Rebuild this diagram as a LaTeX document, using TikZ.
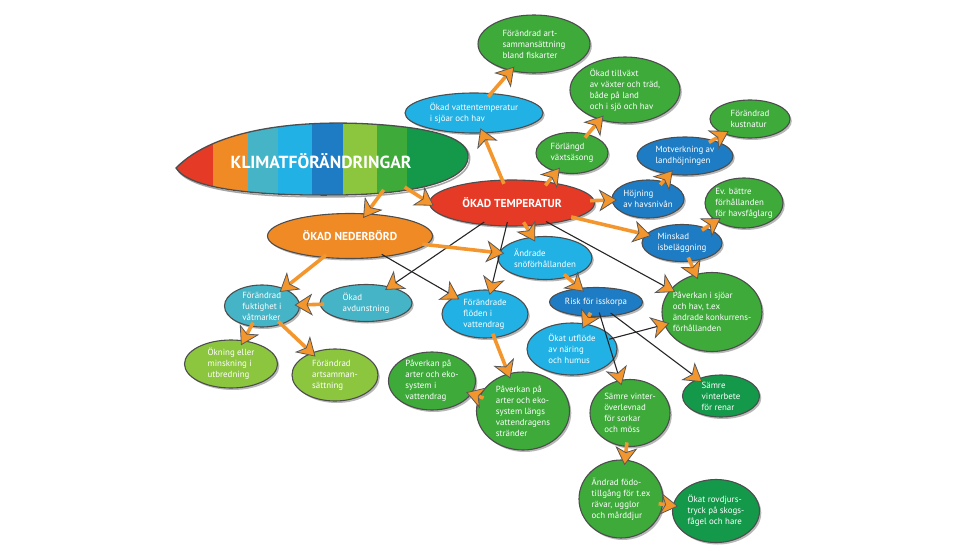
\documentclass[tikz,border=0pt]{standalone}
\usepackage{fontspec}
\setmainfont{PT Sans}
\usetikzlibrary{shapes.geometric,arrows.meta,shadows}
\definecolor{kred}{HTML}{E53A26}
\definecolor{korange}{HTML}{F08A24}
\definecolor{kteal}{HTML}{45B4C6}
\definecolor{kcyan}{HTML}{22B1E4}
\definecolor{kblue}{HTML}{1E7CC4}
\definecolor{klgreen}{HTML}{8CC63F}
\definecolor{kgreen}{HTML}{3DAA3A}
\definecolor{kdgreen}{HTML}{14994A}
\definecolor{karrow}{HTML}{F3962D}
\definecolor{kedge}{HTML}{4D4D4D}

\begin{document}
\begin{tikzpicture}[x=1pt,y=-1pt,
 bub/.style={ellipse,draw=kedge,line width=1.1pt,text=white,align=left,inner sep=-5pt,outer sep=0pt,font=\fontsize{8.9}{11}\selectfont,drop shadow={shadow xshift=1.8pt,shadow yshift=-2pt,fill=black!40,opacity=.7}},
 head/.style={bub,font=\fontsize{11.5}{13}\bfseries\selectfont},
 arr/.style={draw=karrow,line width=3.6pt,-{Stealth[length=18pt,width=22pt,inset=5pt,fill=karrow,color=black!65,line width=.8pt]},shorten <=-4pt,shorten >=-5pt},
 lnk/.style={draw=black!85,line width=1.1pt,-{Stealth[length=18pt,width=22pt,inset=5pt,fill=karrow,color=black!65,line width=.8pt]},shorten <=-4pt,shorten >=-5pt}]
 \useasboundingbox (0,0) rectangle (980,551);
 \draw[black!35,line width=1.5pt,shift={(1.6,1.8)}] (176,168) .. controls (215,128) and (300,120) .. (370,124) .. controls (440,128) and (470,140) .. (468,158) .. controls (466,180) and (420,194) .. (340,195) .. controls (260,196) and (190,190) .. (176,168) -- cycle;
 \begin{scope}
  \clip (176,168) .. controls (215,128) and (300,120) .. (370,124) .. controls (440,128) and (470,140) .. (468,158) .. controls (466,180) and (420,194) .. (340,195) .. controls (260,196) and (190,190) .. (176,168) -- cycle;
  \fill[kred] (170,110) rectangle (213,205);
  \fill[korange] (213,110) rectangle (248,205);
  \fill[kteal] (248,110) rectangle (278,205);
  \fill[kcyan] (278,110) rectangle (312,205);
  \fill[kblue] (312,110) rectangle (343,205);
  \fill[klgreen] (343,110) rectangle (377,205);
  \fill[kgreen] (377,110) rectangle (407,205);
  \fill[kdgreen] (407,110) rectangle (475,205);
 \end{scope}
 \draw[kedge,line width=1.3pt] (176,168) .. controls (215,128) and (300,120) .. (370,124) .. controls (440,128) and (470,140) .. (468,158) .. controls (466,180) and (420,194) .. (340,195) .. controls (260,196) and (190,190) .. (176,168) -- cycle;
 \node[ellipse,minimum width=292pt,minimum height=70pt,inner sep=0pt,text=white,font=\fontsize{17.5}{19}\bfseries\selectfont] (klim) at (321,161) {KLIMATFÖRÄNDRINGAR};

 \node[head,fill=kred,minimum width=165pt,minimum height=46pt] (temp) at (512,203) {ÖKAD TEMPERATUR};
 \node[head,fill=korange,minimum width=165pt,minimum height=45pt] (ned) at (350,236) {ÖKAD NEDERBÖRD};
 \node[bub,fill=kcyan,minimum width=138pt,minimum height=40pt] (vatt) at (474,113) {Ökad vattentemperatur\\i sjöar och hav};
 \node[bub,fill=kgreen,minimum width=112pt,minimum height=58pt] (fisk) at (534,44) {Förändrad art-\\sammansättning\\bland fiskarter};
 \node[bub,fill=kgreen,minimum width=110pt,minimum height=66pt] (tillv) at (625,90) {Ökad tillväxt\\av växter och träd,\\både på land\\och i sjö och hav};
 \node[bub,fill=kgreen,minimum width=72pt,minimum height=41pt] (vaxt) at (572,153) {Förlängd\\växtsäsong};
 \node[bub,fill=kblue,minimum width=96pt,minimum height=38pt] (motv) at (685,156) {Motverkning av\\landhöjningen};
 \node[bub,fill=kgreen,minimum width=80pt,minimum height=38pt] (kust) at (750,119) {Förändrad\\kustnatur};
 \node[bub,fill=kblue,minimum width=72pt,minimum height=38pt] (hojn) at (648,199) {Höjning\\av havsnivån};
 \node[bub,fill=kgreen,minimum width=78pt,minimum height=50pt] (evb) at (744,203) {Ev. bättre\\förhållanden\\för havsfåglarg};
 \node[bub,fill=kblue,minimum width=80pt,minimum height=37pt] (mins) at (682,243) {Minskad\\isbeläggning};
 \node[bub,fill=kcyan,minimum width=94pt,minimum height=43pt] (sno) at (545,258) {Ändrade\\snöförhållanden};
 \node[bub,fill=kblue,minimum width=93pt,minimum height=29pt] (risk) at (596,302) {Risk för isskorpa};
 \node[bub,fill=kgreen,minimum width=100pt,minimum height=79pt] (pavs) at (712,312) {Påverkan i sjöar\\och hav, t.ex\\ändrade konkurrens-\\förhållanden};
 \node[bub,fill=kcyan,minimum width=86pt,minimum height=48pt] (flod) at (485,314) {Förändrade\\flöden i\\vattendrag};
 \node[bub,fill=kcyan,minimum width=90pt,minimum height=52pt] (utfl) at (572,349) {Ökat utflöde\\av näring\\och humus};
 \node[bub,fill=kteal,minimum width=75pt,minimum height=42pt] (fukt) at (262,306) {Förändrad\\fuktighet i\\våtmarker};
 \node[bub,fill=kteal,minimum width=92pt,minimum height=37pt] (avdu) at (366,303) {Ökad\\avdunstning};
 \node[bub,fill=klgreen,minimum width=93pt,minimum height=48pt] (okni) at (231,364) {Ökning eller\\minskning i\\utbredning};
 \node[bub,fill=klgreen,minimum width=86pt,minimum height=52pt] (arts) at (335,375) {Förändrad\\artsamman-\\sättning};
 \node[bub,fill=kgreen,minimum width=87pt,minimum height=58pt] (pvatt) at (432,381) {Påverkan på\\arter och eko-\\system i\\vattendrag};
 \node[bub,fill=kgreen,minimum width=93pt,minimum height=78pt] (plangs) at (523,411) {Påverkan på\\arter och eko-\\system längs\\vattendragens\\stränder};
 \node[bub,fill=kgreen,minimum width=80pt,minimum height=67pt] (sovl) at (630,413) {Sämre vinter-\\överlevnad\\för sorkar\\och möss};
 \node[bub,fill=kdgreen,minimum width=77pt,minimum height=42pt] (vbet) at (721,396) {Sämre\\vinterbete\\för renar};
 \node[bub,fill=kgreen,minimum width=84pt,minimum height=78pt] (fodo) at (621,499) {Ändrad födo-\\tillgång för t.ex\\rävar, ugglor\\och mårddjur};
 \node[bub,fill=kdgreen,minimum width=87pt,minimum height=63pt] (rovd) at (716,511) {Ökat rovdjurs-\\tryck på skogs-\\fågel och hare};

 \draw[arr] (klim.-28) -- (ned);
 \draw[arr] (klim.-18) -- (temp.west);
 \draw[arr] (temp) -- (vatt);
 \draw[arr] (vatt) -- (fisk);
 \draw[arr] (temp.30) -- (vaxt);
 \draw[arr] (vaxt) -- (tillv);
 \draw[arr] (temp) -- (hojn);
 \draw[arr] (hojn) -- (motv);
 \draw[arr] (motv) -- (kust);
 \draw[arr] (temp) -- (mins);
 \draw[arr] (mins) -- (evb);
 \draw[arr] (mins) -- (pavs);
 \draw[lnk] (temp) -- (pavs);
 \draw[arr] (temp) -- (sno);
 \draw[lnk] (temp) -- (flod);
 \draw[lnk] (temp) -- (avdu);
 \draw[arr] (ned) -- (sno);
 \draw[lnk] (ned) -- (flod);
 \draw[arr] (ned) -- (fukt);
 \draw[arr] (avdu) -- (fukt);
 \draw[arr] (fukt) -- (okni);
 \draw[arr] (fukt) -- (arts);
 \draw[arr] (sno) -- (risk);
 \draw[arr] (risk) -- (utfl);
 \draw[lnk] (utfl) -- (pavs);
 \draw[lnk] (risk) -- (sovl);
 \draw[lnk] (risk) -- (vbet);
 \draw[arr] (flod) -- (plangs);
 \draw[arr] (plangs) -- (pvatt);
 \draw[arr] (sovl) -- (fodo);
 \draw[arr] (fodo) -- (rovd);
\end{tikzpicture}
\end{document}
